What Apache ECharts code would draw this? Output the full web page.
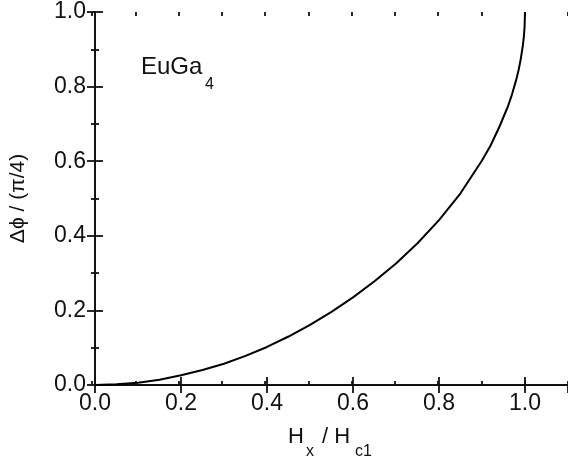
<!DOCTYPE html>
<html>
<head>
<meta charset="utf-8">
<script src="https://cdn.jsdelivr.net/npm/echarts@6/dist/echarts.min.js"></script>
<style>
  html, body {margin: 0; padding: 0; background: #fff;}
  #chart {width: 568px; height: 468px;}
</style>
</head>
<body>
<div id="chart"></div>
<script>
// field ratio and angle change
var hx = [0, 0.05, 0.1, 0.15, 0.2, 0.25, 0.3, 0.35, 0.4, 0.45, 0.5, 0.55, 0.6, 0.65, 0.7,
  0.75, 0.8, 0.85, 0.9, 0.92, 0.94, 0.96, 0.97, 0.98, 0.985, 0.99, 0.995, 0.9975, 0.999, 1.0]
var dphi = [0, 0.002, 0.006, 0.014, 0.026, 0.040, 0.057, 0.078, 0.102, 0.130, 0.161, 0.196, 0.235, 0.278, 0.326,
  0.380, 0.442, 0.514, 0.602, 0.642, 0.691, 0.746, 0.780, 0.820, 0.844, 0.873, 0.910, 0.936, 0.960, 1.0]

var xRange = [0, 1.1]
var yRange = [0, 1.0]
var xLabels = ['0.0', '0.2', '0.4', '0.6', '0.8', '1.0']
var yLabels = ['0.0', '0.2', '0.4', '0.6', '0.8', '1.0']

var font = 'Arial, "Liberation Sans", sans-serif'
var black = '#111'
var lw = 1.8
var line = {show: true, lineStyle: {color: black, width: lw}}

var data = hx.map(function (x, i) { return [x, dphi[i]] })

var chart = echarts.init(document.getElementById('chart'))
var gridBox = {left: 92, top: 12, width: 477, height: 373}

function txt(s, x, y, size) {
  return {
    type: 'text', x: x, y: y, silent: true,
    style: {text: s, fill: black, font: size + 'px ' + font, align: 'left', verticalAlign: 'middle'}
  }
}

var option = {
  animation: false,
  backgroundColor: '#fff',
  grid: [
    Object.assign({}, gridBox),
    Object.assign({}, gridBox)
  ],
  xAxis: [
    {
      gridIndex: 0, type: 'value', position: 'bottom',
      min: xRange[0], max: xRange[1], interval: 0.2,
      axisLine: line,
      axisTick: {show: true, inside: true, length: 8, lineStyle: {color: black, width: lw}},
      axisLabel: {
        fontSize: 23, fontFamily: font, color: black, margin: 7, showMaxLabel: false,
        formatter: function (v) {
          var s = v.toFixed(1)
          return xLabels.indexOf(s) >= 0 && v < 1.05 ? s : ''
        }
      },
      splitLine: {show: false}
    },
    {
      gridIndex: 0, type: 'value', position: 'top',
      min: xRange[0], max: xRange[1], interval: 0.2,
      axisLine: line,
      axisTick: {show: true, inside: true, length: 8, lineStyle: {color: black, width: lw}},
      axisLabel: {show: false},
      splitLine: {show: false}
    },
    {
      gridIndex: 1, type: 'value', position: 'bottom',
      min: xRange[0], max: xRange[1], interval: 0.1,
      axisLine: {show: false},
      axisTick: {show: true, inside: true, length: 4, lineStyle: {color: black, width: lw}},
      axisLabel: {show: false},
      splitLine: {show: false}
    },
    {
      gridIndex: 1, type: 'value', position: 'top',
      min: xRange[0], max: xRange[1], interval: 0.1,
      axisLine: {show: false},
      axisTick: {show: true, inside: true, length: 4, lineStyle: {color: black, width: lw}},
      axisLabel: {show: false},
      splitLine: {show: false}
    }
  ],
  yAxis: [
    {
      gridIndex: 0, type: 'value', position: 'left',
      min: yRange[0], max: yRange[1], interval: 0.2,
      axisLine: line,
      axisTick: {show: true, inside: true, length: 8, lineStyle: {color: black, width: lw}},
      minorTick: {show: true, splitNumber: 2, length: 4, lineStyle: {color: black, width: lw}},
      axisLabel: {
        fontSize: 23, fontFamily: font, color: black, margin: 9,
        formatter: function (v) { return yLabels[Math.round(v / 0.2)] }
      },
      splitLine: {show: false},
      name: 'Δϕ / (π/4)',
      nameLocation: 'middle', nameGap: 66,
      nameTextStyle: {fontSize: 21, fontFamily: font, color: black}
    },
    {
      gridIndex: 0, type: 'value', position: 'right',
      min: yRange[0], max: yRange[1], interval: 0.2,
      axisLine: line,
      axisTick: {show: true, inside: true, length: 8, lineStyle: {color: black, width: lw}},
      minorTick: {show: true, splitNumber: 2, length: 4, lineStyle: {color: black, width: lw}},
      axisLabel: {show: false},
      splitLine: {show: false}
    },
    {
      gridIndex: 1, type: 'value', show: false,
      min: yRange[0], max: yRange[1]
    }
  ],
  graphic: [
    // x axis title with subscripts
    txt('H', 288, 437, 22),
    txt('x', 306, 452, 16),
    txt('/ H', 322, 437, 22),
    txt('c1', 355, 452, 16),
    // sample label
    txt('EuGa', 141, 67, 24),
    txt('4', 205, 85, 16)
  ],
  series: [
    {
      type: 'line',
      xAxisIndex: 0, yAxisIndex: 0,
      data: data,
      showSymbol: false,
      smooth: false,
      lineStyle: {color: '#000', width: 2}
    }
  ]
}

chart.setOption(option)
</script>
</body>
</html>
